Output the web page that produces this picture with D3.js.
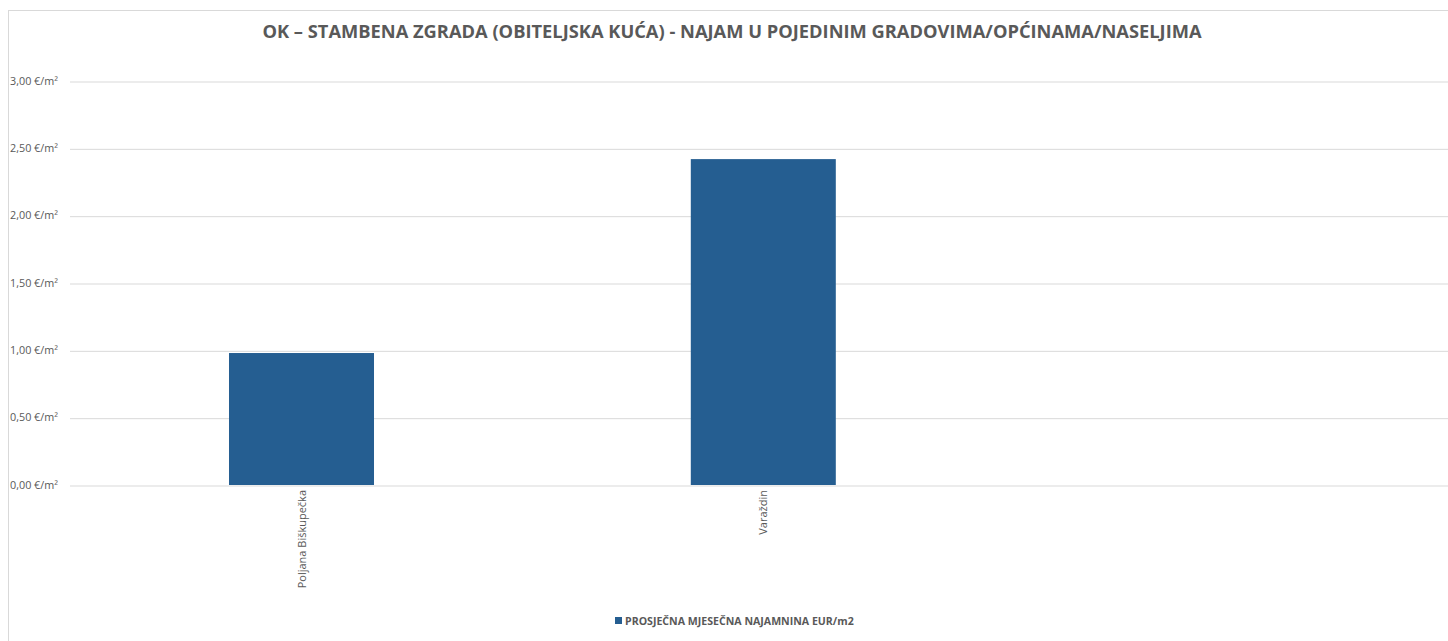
<!DOCTYPE html>
<html>
<head>
    <meta charset="utf-8">
    <style>
        body { margin: 0; background: #fff; }
        svg { font-family: "Open Sans", sans-serif; }
        .grid line { stroke: #d9d9d9; stroke-width: 1; }
        .grid .domain { display: none; }
        .y-label { font-size: 10.8px; fill: #595959; }
        .x-label { font-size: 11px; fill: #595959; }
    </style>
    <script src="https://d3js.org/d3.v7.min.js"></script>
</head>
<body>
<svg width="1448" height="641"></svg>
<script>
    var categories = ["Poljana Biškupečka", "Varaždin", ""];
    var values = [0.98, 2.42, null];
    var yTicks = [0, 0.5, 1, 1.5, 2, 2.5, 3];
    var title = "OK – STAMBENA ZGRADA (OBITELJSKA KUĆA) - NAJAM U POJEDINIM GRADOVIMA/OPĆINAMA/NASELJIMA";
    var seriesName = "PROSJEČNA MJESEČNA NAJAMNINA EUR/m2";

    var svg = d3.select("svg");
    var barColor = "#255e91";

    // chart area frame (only top and left edges are visible in the crop)
    svg.append("line").attr("x1", 8).attr("x2", 1448).attr("y1", 10.5).attr("y2", 10.5)
        .attr("stroke", "#d9d9d9");
    svg.append("line").attr("x1", 8.5).attr("x2", 8.5).attr("y1", 10).attr("y2", 641)
        .attr("stroke", "#d9d9d9");

    var x = d3.scaleBand().domain(categories).range([70.6, 1456]).paddingInner(0.686).paddingOuter(0.343);
    var y = d3.scaleLinear().domain([0, 3]).range([485, 81]);

    svg.append("g")
        .attr("class", "grid")
        .attr("transform", "translate(70,0)")
        .call(d3.axisLeft(y).tickValues(yTicks).tickSize(-1400).tickFormat(""))
        .selectAll(".tick line").attr("transform", "translate(0,0.5)");

    svg.selectAll(".y-label")
        .data(yTicks)
        .enter().append("text")
        .attr("class", "y-label")
        .attr("x", 10)
        .attr("y", function (d) { return y(d) + 3.5; })
        .text(function (d) { return d.toFixed(2).replace(".", ",") + " €/m²"; });

    svg.selectAll(".bar")
        .data(categories.map(function (c, i) { return { c: c, v: values[i] }; }).filter(function (d) { return d.v != null; }))
        .enter().append("rect")
        .attr("class", "bar")
        .attr("fill", barColor)
        .attr("x", function (d) { return x(d.c); })
        .attr("width", x.bandwidth())
        .attr("y", function (d) { return y(d.v); })
        .attr("height", function (d) { return y(0) - y(d.v); });

    svg.selectAll(".x-label")
        .data(categories.filter(function (c) { return c !== ""; }))
        .enter().append("text")
        .attr("class", "x-label")
        .attr("text-anchor", "end")
        .attr("transform", function (d) {
            return "translate(" + (x(d) + x.bandwidth() / 2 + 4) + ",490) rotate(-90)";
        })
        .text(function (d) { return d; });

    svg.append("text")
        .attr("x", 732)
        .attr("y", 38)
        .attr("text-anchor", "middle")
        .attr("font-size", "18.3px")
        .attr("font-weight", "bold")
        .attr("fill", "#595959")
        .text(title);

    var legend = svg.append("g").attr("transform", "translate(615,617)");
    legend.append("rect").attr("width", 7).attr("height", 7).attr("fill", barColor);
    legend.append("text")
        .attr("x", 10)
        .attr("y", 7.5)
        .attr("font-size", "10.6px")
        .attr("font-weight", "bold")
        .attr("fill", "#595959")
        .text(seriesName);
</script>
</body>
</html>
